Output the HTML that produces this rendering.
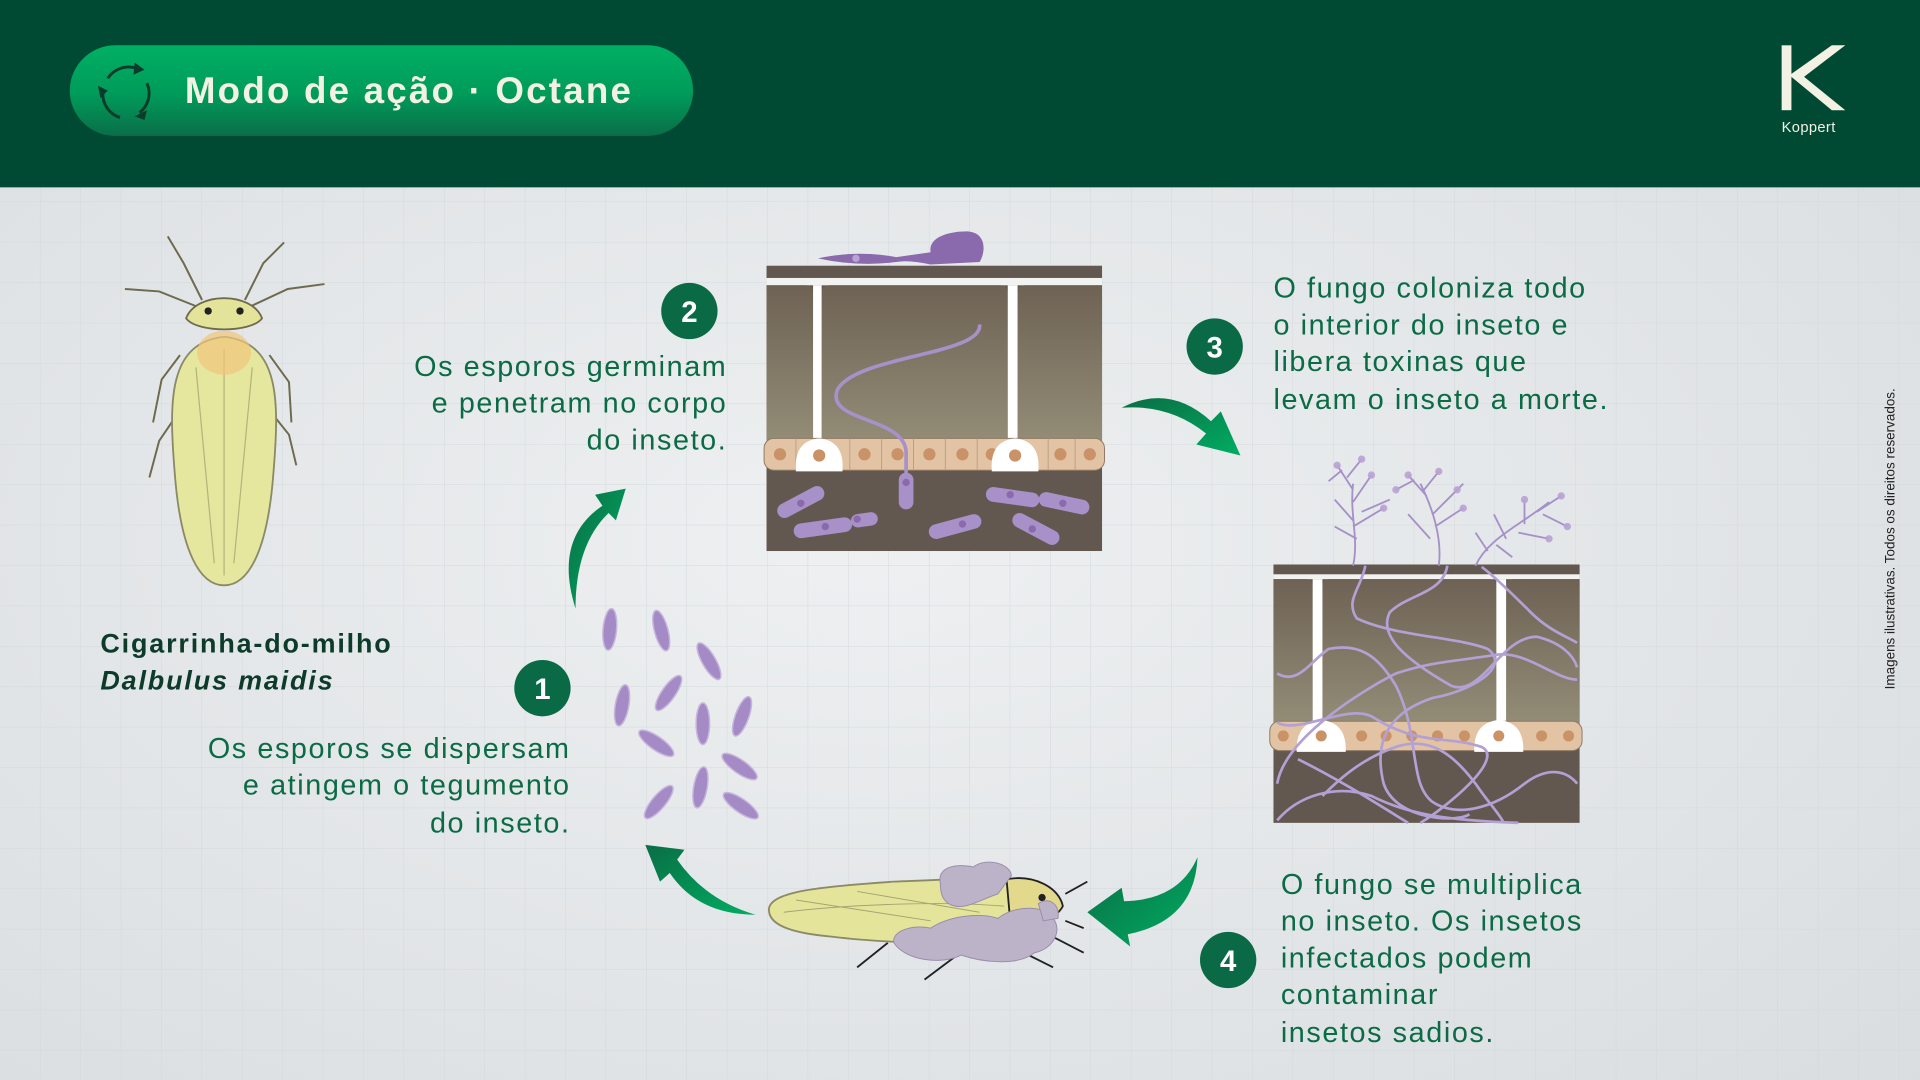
<!DOCTYPE html>
<html><head><meta charset="utf-8">
<style>
html,body{margin:0;padding:0;width:1920px;height:1080px;overflow:hidden;background:#e5e8ea;}
svg{display:block}
text{font-family:"Liberation Sans",sans-serif;}
</style></head>
<body>
<svg width="1920" height="1080" viewBox="0 0 1568 882" xmlns="http://www.w3.org/2000/svg">
<defs>
<radialGradient id="bg" cx="0.45" cy="0.5" r="0.75">
<stop offset="0" stop-color="#eef0f1"/><stop offset="1" stop-color="#d9dde0"/></radialGradient>
<pattern id="grid" width="33" height="33" patternUnits="userSpaceOnUse">
<path d="M33 0V33M0 33H33" stroke="#cfd6da" stroke-width="0.8" fill="none"/></pattern>
<linearGradient id="pill" x1="0" y1="0" x2="0" y2="1">
<stop offset="0" stop-color="#00b063"/><stop offset="0.55" stop-color="#009a5a"/><stop offset="1" stop-color="#0a6e48"/></linearGradient>
<linearGradient id="col" x1="0" y1="0" x2="0" y2="1">
<stop offset="0" stop-color="#6e6254"/><stop offset="1" stop-color="#948e78"/></linearGradient>
<linearGradient id="arr" x1="0" y1="0" x2="1" y2="1">
<stop offset="0" stop-color="#0a6d45"/><stop offset="1" stop-color="#00ad62"/></linearGradient>
</defs>
<rect width="1568" height="882" fill="url(#bg)"/>
<rect y="153" width="1568" height="729" fill="url(#grid)" opacity="0.8"/>
<!-- header -->
<rect width="1568" height="153" fill="#004a33"/>
<rect x="57" y="37" width="509" height="74" rx="37" fill="url(#pill)"/>
<g fill="none" stroke="#0d3b2a" stroke-width="2.4">
<path d="M88 64 A20 20 0 0 1 112 56"/><path d="M120 68 A20 20 0 0 1 114 92"/>
<path d="M98 96 A20 20 0 0 1 84 76"/></g>
<g fill="#0d3b2a"><path d="M110 51 L118 57 L109 61Z"/><path d="M110 95 L120 90 L118 98Z"/><path d="M80 70 L88 74 L82 80Z"/></g>
<text x="151" y="84" font-size="30" font-weight="bold" letter-spacing="1.8" fill="#f3f0e4">Modo de ação · Octane</text>
<g fill="#f3f0e4"><rect x="1455" y="37" width="8" height="53"/>
<path d="M1462 61 L1496 37 L1507 37 L1469 66Z"/><path d="M1462 62 L1470 60 L1507 90 L1496 90Z"/></g>
<text x="1455" y="108" font-size="12" fill="#f3f0e4" letter-spacing="0.3">Koppert</text>
<text transform="translate(1547,440) rotate(-90)" text-anchor="middle" font-size="11" fill="#222">Imagens ilustrativas. Todos os direitos reservados.</text>

<!-- top-left insect -->
<g stroke="#6d6a4e" stroke-width="1.6" fill="none">
<path d="M165 245 L150 215 L137 193"/><path d="M200 245 L215 215 L232 198"/>
<path d="M160 250 L130 238 L102 236"/><path d="M205 250 L235 236 L265 232"/>
<path d="M147 290 L132 310 L125 345"/><path d="M220 290 L236 312 L238 345"/>
<path d="M147 335 L130 360 L122 390"/><path d="M220 335 L236 355 L242 380"/>
</g>
<path d="M183 275 C136 280 138 330 143 390 C148 450 163 478 183 478 C203 478 218 450 223 390 C228 330 230 280 183 275Z" fill="#e6e79f" stroke="#8a8a66" stroke-width="1.5"/>
<path d="M183 285 L183 470 M160 300 L175 460 M206 300 L191 460" stroke="#b5b37a" stroke-width="1" fill="none"/>
<ellipse cx="183" cy="288" rx="22" ry="18" fill="#f0c47b" opacity="0.7"/>
<path d="M152 260 C160 238 206 238 214 260 C205 272 161 272 152 260Z" fill="#e3e39a" stroke="#6d6a4e" stroke-width="1.5"/>
<circle cx="170" cy="254" r="3" fill="#222"/><circle cx="196" cy="254" r="3" fill="#222"/>
<text x="82" y="533" font-size="22" font-weight="bold" letter-spacing="1.5" fill="#0d3b2a">Cigarrinha-do-milho</text>
<text x="82" y="563" font-size="22" font-weight="bold" font-style="italic" letter-spacing="1.5" fill="#0d3b2a">Dalbulus maidis</text>

<!-- diagram step 2 -->
<g>
<rect x="626" y="217" width="274" height="233" fill="#635850"/>
<rect x="626" y="227" width="274" height="6" fill="#f2f2f0"/>
<path d="M626 233 H658 Q664 233 664 240 V365 H626Z" fill="url(#col)"/>
<path d="M671 240 Q671 233 678 233 H817 Q823 233 823 240 V365 H671Z" fill="url(#col)"/>
<path d="M831 240 Q831 233 838 233 H900 V365 H831Z" fill="url(#col)"/>
<rect x="664" y="233" width="7" height="130" fill="#fff"/><rect x="823" y="233" width="8" height="130" fill="#fff"/>
<rect x="624" y="358" width="278" height="26" rx="8" fill="#e2c3a4" stroke="#8d7a64" stroke-width="0.8"/>
<g fill="#c99267"><circle cx="637" cy="371" r="5"/><circle cx="706" cy="371" r="5"/><circle cx="733" cy="371" r="5"/><circle cx="759" cy="371" r="5"/><circle cx="786" cy="371" r="5"/><circle cx="810" cy="371" r="5"/><circle cx="866" cy="371" r="5"/><circle cx="890" cy="371" r="5"/></g>
<g stroke="#b79b80" stroke-width="0.7"><path d="M650 358V384M694 358V384M720 358V384M746 358V384M772 358V384M798 358V384M856 358V384M878 358V384"/></g>
<path d="M650 385 Q648 360 669 358 Q690 360 688 385Z" fill="#fff"/><path d="M810 385 Q808 360 829 358 Q850 360 848 385Z" fill="#fff"/>
<circle cx="669" cy="372" r="5" fill="#c99267"/><circle cx="829" cy="372" r="5" fill="#c99267"/>
<path d="M800 265 C803 290 700 290 684 318 C673 345 740 340 740 370 L740 402" stroke="#a890c8" stroke-width="3" fill="none"/>
<rect x="734" y="386" width="12" height="30" rx="6" fill="#a890c8"/>
<g fill="#a890c8">
<rect x="633" y="404" width="42" height="12" rx="6" transform="rotate(-28 654 410)"/>
<rect x="648" y="425" width="48" height="12" rx="6" transform="rotate(-8 672 431)"/>
<rect x="695" y="419" width="22" height="11" rx="5.5" transform="rotate(-8 706 425)"/>
<rect x="758" y="424" width="44" height="12" rx="6" transform="rotate(-15 780 430)"/>
<rect x="805" y="400" width="44" height="12" rx="6" transform="rotate(8 827 406)"/>
<rect x="848" y="405" width="42" height="12" rx="6" transform="rotate(12 869 411)"/>
<rect x="825" y="426" width="42" height="12" rx="6" transform="rotate(28 846 432)"/>
</g>
<g fill="#8a6aac"><circle cx="700" cy="424" r="3"/><circle cx="740" cy="394" r="3"/><circle cx="674" cy="430" r="3"/><circle cx="654" cy="411" r="3"/><circle cx="786" cy="428" r="3"/><circle cx="825" cy="404" r="3"/><circle cx="868" cy="411" r="3"/><circle cx="843" cy="432" r="3"/></g>
<path d="M668 211 Q700 204 732 210 L760 206 C758 195 772 189 790 189 C806 190 805 206 800 214 L760 216 Q742 212 732 214 Q700 218 668 211Z" fill="#8a6aac"/>
<circle cx="699" cy="211" r="3" fill="#b9a2d4"/>
</g>

<!-- diagram step 3 -->
<g>
<rect x="1040" y="461" width="250" height="211" fill="#635850"/>
<rect x="1040" y="469" width="250" height="4" fill="#f2f2f0"/>
<path d="M1040 473 H1066 Q1072 473 1072 479 V595 H1040Z" fill="url(#col)"/>
<path d="M1080 479 Q1080 473 1086 473 H1216 Q1222 473 1222 479 V595 H1080Z" fill="url(#col)"/>
<path d="M1230 479 Q1230 473 1236 473 H1290 V595 H1230Z" fill="url(#col)"/>
<rect x="1072" y="473" width="8" height="120" fill="#fff"/><rect x="1222" y="473" width="8" height="120" fill="#fff"/>
<rect x="1037" y="589" width="255" height="24" rx="8" fill="#e2c3a4" stroke="#8d7a64" stroke-width="0.8"/>
<g fill="#c99267"><circle cx="1048" cy="601" r="4.5"/><circle cx="1112" cy="601" r="4.5"/><circle cx="1132" cy="601" r="4.5"/><circle cx="1153" cy="601" r="4.5"/><circle cx="1174" cy="601" r="4.5"/><circle cx="1196" cy="601" r="4.5"/><circle cx="1259" cy="601" r="4.5"/><circle cx="1281" cy="601" r="4.5"/></g>
<path d="M1059 614 Q1058 590 1079 588 Q1100 590 1099 614Z" fill="#fff"/><path d="M1204 614 Q1203 590 1224 588 Q1245 590 1244 614Z" fill="#fff"/>
<circle cx="1079" cy="601" r="4.5" fill="#c99267"/><circle cx="1224" cy="601" r="4.5" fill="#c99267"/>
<g stroke="#b3a0d4" stroke-width="2.2" fill="none">
<path d="M1115 462 C1112 480 1098 490 1108 505 C1140 520 1190 520 1215 530 C1235 545 1200 565 1170 570 C1140 580 1120 600 1130 640 C1140 670 1190 672 1200 665"/>
<path d="M1182 462 C1178 485 1150 485 1135 500 C1125 520 1150 540 1185 560 C1210 570 1225 520 1255 520 C1275 525 1285 535 1288 545"/>
<path d="M1043 640 C1050 600 1120 560 1140 550 C1170 540 1190 540 1220 535 C1245 530 1270 555 1288 555"/>
<path d="M1043 550 C1060 560 1070 540 1085 530 C1110 525 1125 535 1140 560 C1160 600 1150 640 1170 655 C1190 668 1220 660 1245 640 C1265 625 1280 630 1288 640"/>
<path d="M1043 590 C1060 600 1100 575 1120 585 C1160 610 1180 600 1210 610 C1230 620 1180 660 1160 672"/>
<path d="M1043 670 C1060 650 1090 640 1120 650 C1150 665 1180 670 1240 672"/>
<path d="M1060 620 C1100 640 1130 660 1150 672"/>
<path d="M1210 463 C1220 470 1240 490 1250 500 C1265 515 1280 520 1288 525"/>
<path d="M1080 650 C1090 640 1110 620 1140 610 C1170 600 1190 620 1205 640 C1215 655 1225 665 1228 672"/>
</g>
<g stroke="#a690c8" stroke-width="1.5" fill="none">
<path d="M1105 462 C1110 440 1102 420 1105 395 M1105 400 L1092 380 M1105 410 L1120 388 M1105 425 L1090 408 M1105 430 L1130 415 M1108 440 L1090 430 M1100 390 L1112 375 M1112 418 L1135 408 M1096 384 L1085 393"/>
<path d="M1175 462 C1178 440 1170 415 1160 395 M1165 405 L1150 388 M1170 420 L1190 400 M1172 430 L1195 415 M1163 400 L1175 385 M1168 440 L1150 420 M1180 410 L1195 395 M1155 392 L1140 400"/>
<path d="M1205 462 C1215 440 1240 430 1265 410 M1230 440 L1220 420 M1245 428 L1245 408 M1255 418 L1275 405 M1260 420 L1280 430 M1240 435 L1265 440 M1215 450 L1205 435 M1222 445 L1235 455"/>
</g>
<g fill="#b9a2d4" opacity="0.9">
<circle cx="1092" cy="380" r="3"/><circle cx="1120" cy="388" r="3"/><circle cx="1112" cy="375" r="3"/><circle cx="1130" cy="415" r="3"/><circle cx="1150" cy="388" r="3"/><circle cx="1190" cy="400" r="3"/><circle cx="1175" cy="385" r="3"/><circle cx="1195" cy="415" r="3"/><circle cx="1275" cy="405" r="3"/><circle cx="1280" cy="430" r="3"/><circle cx="1245" cy="408" r="3"/><circle cx="1265" cy="440" r="3"/><circle cx="1140" cy="400" r="3"/></g>
</g>

<!-- spores -->
<g fill="#a48bc6" stroke="#c7b6dc" stroke-width="1.2">
<ellipse cx="498" cy="514" rx="5.5" ry="17" transform="rotate(5 498 514)"/>
<ellipse cx="540" cy="515" rx="5.5" ry="17" transform="rotate(-15 540 515)"/>
<ellipse cx="579" cy="540" rx="5.5" ry="17" transform="rotate(-30 579 540)"/>
<ellipse cx="546" cy="566" rx="5.5" ry="17" transform="rotate(35 546 566)"/>
<ellipse cx="508" cy="576" rx="5.5" ry="17" transform="rotate(10 508 576)"/>
<ellipse cx="574" cy="591" rx="5.5" ry="17"/>
<ellipse cx="606" cy="585" rx="5.5" ry="17" transform="rotate(20 606 585)"/>
<ellipse cx="536" cy="607" rx="5.5" ry="17" transform="rotate(-55 536 607)"/>
<ellipse cx="604" cy="626" rx="5.5" ry="17" transform="rotate(-55 604 626)"/>
<ellipse cx="572" cy="643" rx="5.5" ry="17" transform="rotate(10 572 643)"/>
<ellipse cx="538" cy="655" rx="5.5" ry="17" transform="rotate(40 538 655)"/>
<ellipse cx="605" cy="658" rx="5.5" ry="17" transform="rotate(-55 605 658)"/>
</g>

<!-- bottom insect -->
<g>
<g stroke="#222" stroke-width="1.5" fill="none">
<path d="M850 760 L885 778 M795 770 L755 800 M830 775 L860 790 M725 770 L700 790 M870 730 L888 720 M870 752 L885 758"/></g>
<path d="M628 742 C630 728 670 724 730 720 C780 718 810 716 830 722 L830 770 C790 772 720 770 680 765 C645 762 627 755 628 742Z" fill="#e4e59b" stroke="#8a8a66" stroke-width="1.5"/>
<path d="M640 745 C680 740 760 735 820 740 M650 735 L760 752 M700 728 L800 745" stroke="#a5a472" stroke-width="0.8" fill="none"/>
<path d="M822 718 C845 714 865 725 868 740 C862 752 840 758 825 752Z" fill="#e3d98c" stroke="#222" stroke-width="1.5"/>
<circle cx="851" cy="733" r="3" fill="#222"/>
<g fill="#bcb3c9" stroke="#9a8cab" stroke-width="0.8">
<path d="M768 722 C765 708 780 705 795 708 C805 700 825 705 826 715 L815 730 C800 735 790 742 780 740 C770 738 768 730 768 722Z"/>
<path d="M730 770 C728 760 745 755 760 758 C775 748 800 745 815 750 C830 738 855 740 860 750 C868 760 860 775 845 778 C830 790 800 785 785 780 C770 788 740 785 730 770Z"/>
<path d="M848 738 C856 732 866 738 864 750 L852 752Z"/>
</g>
</g>

<!-- arrows -->
<g fill="url(#arr)">
<path d="M470 497 Q452 440 492 413 L486 404 L511 399 L503 425 L497 419 Q470 445 470 497Z"/>
<path d="M916 333 Q955 313 989 344 L997 336 L1013 372 L977 363 L985 354 Q955 330 916 333Z"/>
<path d="M978 700 Q976 752 921 763 L923 773 L888 745 L916 725 L918 736 Q963 735 978 700Z"/>
<path d="M617 747 Q570 747 547 713 L539 720 L527 690 L559 694 L553 702 Q576 735 617 747Z"/>
</g>

<!-- steps -->
<g font-size="23.5" fill="#0b6b45" letter-spacing="1.3">
<circle cx="563" cy="254" r="23" fill="#0a6a45"/><text x="563" y="263" font-size="24" font-weight="bold" fill="#fff" text-anchor="middle" letter-spacing="0">2</text>
<g text-anchor="end"><text x="594" y="307">Os esporos germinam</text><text x="594" y="337">e penetram no corpo</text><text x="594" y="367">do inseto.</text></g>
<circle cx="992" cy="283" r="23" fill="#0a6a45"/><text x="992" y="292" font-size="24" font-weight="bold" fill="#fff" text-anchor="middle" letter-spacing="0">3</text>
<text x="1040" y="243">O fungo coloniza todo</text><text x="1040" y="273">o interior do inseto e</text><text x="1040" y="303">libera toxinas que</text><text x="1040" y="334">levam o inseto a morte.</text>
<circle cx="443" cy="562" r="23" fill="#0a6a45"/><text x="443" y="571" font-size="24" font-weight="bold" fill="#fff" text-anchor="middle" letter-spacing="0">1</text>
<g text-anchor="end"><text x="466" y="619">Os esporos se dispersam</text><text x="466" y="649">e atingem o tegumento</text><text x="466" y="680">do inseto.</text></g>
<circle cx="1003" cy="784" r="23" fill="#0a6a45"/><text x="1003" y="793" font-size="24" font-weight="bold" fill="#fff" text-anchor="middle" letter-spacing="0">4</text>
<text x="1046" y="730">O fungo se multiplica</text><text x="1046" y="760">no inseto. Os insetos</text><text x="1046" y="790">infectados podem</text><text x="1046" y="820">contaminar</text><text x="1046" y="851">insetos sadios.</text>
</g>
</svg>
</body></html>
